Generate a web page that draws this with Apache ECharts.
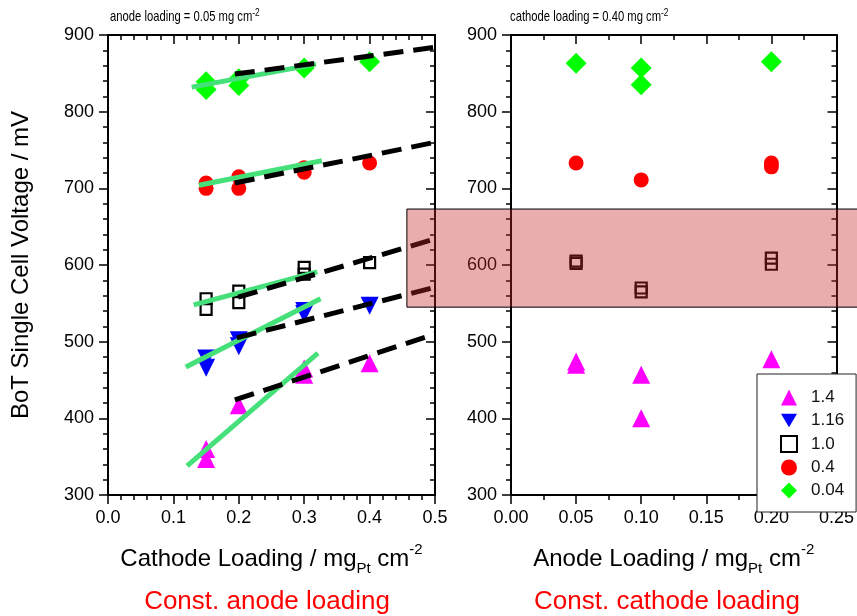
<!DOCTYPE html>
<html>
<head>
<meta charset="utf-8">
<title>BoT single cell voltage vs. Pt loading</title>
<script src="https://cdn.jsdelivr.net/npm/echarts@6/dist/echarts.min.js"></script>
<style>
  html, body { margin: 0; padding: 0; background: #fff; }
  #chart { width: 857px; height: 616px; }
</style>
</head>
<body>
<div id="chart"></div>
<script>
// ---------- data ----------
// legend entries (current density, A cm-2)
const seriesNames = ['1.4', '1.16', '1.0', '0.4', '0.04'];

// y ticks (mV)
const voltageMin = 300, voltageMax = 900, voltageStep = 100;

// left panel: constant anode loading, x = cathode loading (mg cm-2)
const cathodeX_14  = [0.15, 0.15, 0.2, 0.3, 0.3, 0.4];
const cathodeV_14  = [360, 347, 417, 465, 457, 472];
const cathodeX_116 = [0.15, 0.15, 0.2, 0.2, 0.3, 0.3, 0.4];
const cathodeV_116 = [478, 466, 502, 494, 540, 536, 547];
const cathodeX_10  = [0.15, 0.15, 0.2, 0.2, 0.3, 0.3, 0.4];
const cathodeV_10  = [556, 542, 566, 551, 597, 588, 603];
const cathodeX_04  = [0.15, 0.15, 0.2, 0.2, 0.3, 0.3, 0.4];
const cathodeV_04  = [707, 700, 715, 700, 727, 721, 733];
const cathodeX_004 = [0.15, 0.15, 0.2, 0.2, 0.3, 0.4];
const cathodeV_004 = [839, 829, 843, 834, 857, 865];

// linear trends on the left panel: [x, mV] end points
const trendSolid = {
  '1.4':  [[0.121, 338], [0.321, 485]],
  '1.16': [[0.119, 467], [0.325, 556]],
  '1.0':  [[0.131, 548], [0.320, 591]],
  '0.4':  [[0.139, 704], [0.327, 736]],
  '0.04': [[0.128, 832], [0.318, 862]]
};
const trendDashed = {
  '1.4':  [[0.194, 424], [0.5, 510]],
  '1.16': [[0.197, 505], [0.5, 571]],
  '1.0':  [[0.199, 558], [0.5, 634]],
  '0.4':  [[0.194, 707], [0.5, 760]],
  '0.04': [[0.194, 849], [0.5, 884]]
};

// right panel: constant cathode loading, x = anode loading (mg cm-2)
const anodeX_14  = [0.05, 0.05, 0.1, 0.1, 0.2];
const anodeV_14  = [474, 470, 457, 400, 477];
const anodeX_10  = [0.05, 0.05, 0.1, 0.1, 0.2, 0.2];
const anodeV_10  = [605, 602, 570, 565, 609, 601];
const anodeX_04  = [0.05, 0.1, 0.2, 0.2];
const anodeV_04  = [733, 711, 733, 728];
const anodeX_004 = [0.05, 0.1, 0.1, 0.2];
const anodeV_004 = [863, 857, 835, 865];

// highlighted voltage band (mV) and where it starts on the cathode axis
const bandVoltage = [545, 673];
const bandFromCathode = 0.457;

// ---------- styling ----------
const FONT = 'Liberation Sans, Arial, Helvetica, sans-serif';
const markers = {
  '1.4':  { symbol: 'triangle', symbolSize: 18, symbolRotate: 0,   itemStyle: { color: '#ff00ff', opacity: 1 } },
  '1.16': { symbol: 'triangle', symbolSize: 18, symbolRotate: 180, itemStyle: { color: '#0000ff', opacity: 1 } },
  '1.0':  { symbol: 'rect',     symbolSize: 11, symbolRotate: 0,   itemStyle: { color: 'rgba(255,255,255,0)', borderColor: '#000', borderWidth: 2.2, opacity: 1 } },
  '0.4':  { symbol: 'circle',   symbolSize: 15, symbolRotate: 0,   itemStyle: { color: '#ff0000', opacity: 1 } },
  '0.04': { symbol: 'diamond',  symbolSize: 21, symbolRotate: 0,   itemStyle: { color: '#00ff00', opacity: 1 } }
};
// legend glyphs (the down-pointing triangle needs its own outline)
const legendIcons = {
  '1.4': 'triangle',
  '1.16': 'path://M0,0 L20,0 L10,17 Z',
  '1.0': 'rect',
  '0.4': 'circle',
  '0.04': 'diamond'
};

const pts = (xs, ys) => xs.map((x, i) => [x, ys[i]]);

const leftData = {
  '1.4': pts(cathodeX_14, cathodeV_14),
  '1.16': pts(cathodeX_116, cathodeV_116),
  '1.0': pts(cathodeX_10, cathodeV_10),
  '0.4': pts(cathodeX_04, cathodeV_04),
  '0.04': pts(cathodeX_004, cathodeV_004)
};
const rightData = {
  '1.4': pts(anodeX_14, anodeV_14),
  '1.0': pts(anodeX_10, anodeV_10),
  '0.4': pts(anodeX_04, anodeV_04),
  '0.04': pts(anodeX_004, anodeV_004)
};

const axisLine = { show: true, onZero: false, lineStyle: { color: '#000', width: 2 } };

function makeX(gridIndex, position, max, interval, minorSplit, digits, name) {
  const mirror = position === 'top';
  return {
    type: 'value', gridIndex, position, min: 0, max, interval,
    axisLine,
    axisTick: { show: true, inside: mirror, length: 9, lineStyle: { color: '#000', width: 1.5 } },
    minorTick: { show: true, splitNumber: minorSplit, length: 5, lineStyle: { color: '#000', width: 1.5 } },
    splitLine: { show: false },
    axisLabel: {
      show: !mirror, margin: 14, color: '#000', fontFamily: FONT, fontSize: 18,
      formatter: v => v.toFixed(digits)
    },
    name: mirror ? '' : name,
    nameLocation: 'middle',
    nameGap: 47,
    nameTextStyle: {
      color: '#000', fontFamily: FONT, fontSize: 24, lineHeight: 34,
      rich: {
        sub: { fontFamily: FONT, fontSize: 15, lineHeight: 15, verticalAlign: 'bottom', color: '#000' },
        sup: { fontFamily: FONT, fontSize: 15, lineHeight: 15, verticalAlign: 'top', color: '#000' }
      }
    }
  };
}

function makeY(gridIndex, position, name) {
  const mirror = position === 'right';
  return {
    type: 'value', gridIndex, position,
    min: voltageMin, max: voltageMax, interval: voltageStep,
    axisLine,
    axisTick: { show: true, inside: mirror, length: 9, lineStyle: { color: '#000', width: 1.5 } },
    minorTick: { show: true, splitNumber: 5, length: 5, lineStyle: { color: '#000', width: 1.5 } },
    splitLine: { show: false },
    axisLabel: { show: !mirror, margin: 14, color: '#000', fontFamily: FONT, fontSize: 18 },
    name: name || '',
    nameLocation: 'middle',
    nameRotate: 90,
    nameGap: 75,
    nameTextStyle: { color: '#000', fontFamily: FONT, fontSize: 24 }
  };
}

const series = [];
// markers
seriesNames.forEach(n => {
  const m = markers[n];
  series.push(Object.assign({
    name: n, type: 'scatter', xAxisIndex: 0, yAxisIndex: 0, z: 2,
    data: leftData[n]
  }, m));
  if (rightData[n]) {
    series.push(Object.assign({
      name: n, type: 'scatter', xAxisIndex: 2, yAxisIndex: 2, z: 2,
      data: rightData[n]
    }, m));
  }
});
// trend lines
seriesNames.forEach(n => {
  series.push({
    name: 'fit ' + n, type: 'line', xAxisIndex: 0, yAxisIndex: 0, z: 3,
    data: trendSolid[n], symbol: 'none', silent: true,
    lineStyle: { color: '#45e07a', width: 5, cap: 'butt', opacity: 1 }
  });
  series.push({
    name: 'trend ' + n, type: 'line', xAxisIndex: 0, yAxisIndex: 0, z: 4,
    data: trendDashed[n], symbol: 'none', silent: true,
    lineStyle: { color: '#000', width: 5, type: [20, 10], cap: 'butt', opacity: 1 }
  });
});

const chart = echarts.init(document.getElementById('chart'), null, { renderer: 'canvas' });

chart.setOption({
  animation: false,
  backgroundColor: '#fff',
  grid: [
    { left: 108, top: 35, width: 327, height: 460 },
    { left: 511, top: 35, width: 326, height: 460 }
  ],
  xAxis: [
    makeX(0, 'bottom', 0.5, 0.1, 5, 1, 'Cathode Loading / mg{sub|Pt} cm{sup|-2}'),
    makeX(0, 'top', 0.5, 0.1, 5, 1, ''),
    makeX(1, 'bottom', 0.25, 0.05, 2, 2, 'Anode Loading / mg{sub|Pt} cm{sup|-2}'),
    makeX(1, 'top', 0.25, 0.05, 2, 2, '')
  ],
  yAxis: [
    makeY(0, 'left', 'BoT Single Cell Voltage / mV'),
    makeY(0, 'right'),
    makeY(1, 'left'),
    makeY(1, 'right')
  ],
  legend: {
    data: seriesNames.map(n => ({ name: n, icon: legendIcons[n] })),
    orient: 'vertical',
    left: 757, top: 374,
    padding: [15, 12, 13, 23],
    itemWidth: 16, itemHeight: 16, itemGap: 6,
    backgroundColor: '#fff',
    borderColor: '#222', borderWidth: 1, borderRadius: 0,
    selectedMode: false,
    textStyle: { color: '#111', fontFamily: FONT, fontSize: 17, padding: [0, 0, 0, 9] }
  },
  series
});

// band overlay and annotations
const topLeft = chart.convertToPixel({ gridIndex: 0 }, [bandFromCathode, bandVoltage[1]]);
const bottomLeft = chart.convertToPixel({ gridIndex: 0 }, [bandFromCathode, bandVoltage[0]]);
const chartW = chart.getWidth();

const supRich = {
  t: { fontFamily: FONT, fontSize: 15, lineHeight: 19, color: '#000' },
  s: { fontFamily: FONT, fontSize: 11, lineHeight: 11, verticalAlign: 'top', color: '#000' }
};

chart.setOption({
  graphic: [
    {
      id: 'band', type: 'rect', z: 100, silent: true,
      shape: { x: topLeft[0], y: topLeft[1], width: chartW - topLeft[0] + 10, height: bottomLeft[1] - topLeft[1] },
      style: { fill: 'rgba(200,40,40,0.38)', stroke: '#000', lineWidth: 1 }
    },
    {
      id: 'noteLeft', type: 'text', z: 50, x: 110, y: 7, scaleX: 0.75,
      style: { x: 0, y: 0, text: '{t|anode loading = 0.05 mg cm}{s|-2}', rich: supRich }
    },
    {
      id: 'noteRight', type: 'text', z: 50, x: 510, y: 7, scaleX: 0.75,
      style: { x: 0, y: 0, text: '{t|cathode loading = 0.40 mg cm}{s|-2}', rich: supRich }
    },
    {
      id: 'constAnode', type: 'text', z: 50,
      style: {
        x: 267, y: 602, text: 'Const. anode loading', textAlign: 'center', textVerticalAlign: 'middle',
        fontFamily: FONT, fontSize: 26, fill: '#ff0000'
      }
    },
    {
      id: 'constCathode', type: 'text', z: 50,
      style: {
        x: 667, y: 602, text: 'Const. cathode loading', textAlign: 'center', textVerticalAlign: 'middle',
        fontFamily: FONT, fontSize: 26, fill: '#ff0000'
      }
    }
  ]
});
</script>
</body>
</html>
